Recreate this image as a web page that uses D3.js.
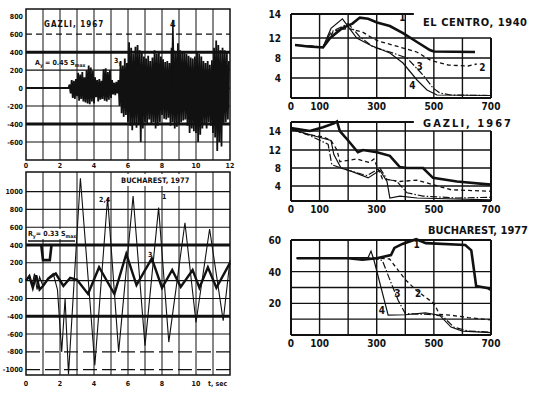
<!DOCTYPE html>
<html>
<head>
<meta charset="utf-8">
<script src="https://cdn.jsdelivr.net/npm/d3@7"></script>
<style>
  body { margin: 0; background: #fff; }
  text { font-family: "DejaVu Sans Condensed", "DejaVu Sans", sans-serif; font-weight: bold; fill: #111; }
</style>
</head>
<body>
<div id="container"></div>
<script>
// ---- left panels: accelerograms / responses vs time ----
var timeTicksTop = [0, 2, 4, 6, 8, 10, 12];
var timeTicksBottom = [0, 2, 4, 6, 8, 10];
var gazliYTicks = [800, 600, 400, 200, 0, -200, -400, -600];
var bucYTicks = [1000, 800, 600, 400, 200, 0, -200, -400, -600, -800, -1000];

// Gazli 1967, response peaks, one value per 1/16 s from t = 2.5 s
var gazliStart = 2.5, gazliStep = 0.0625;
var gazliAcc = [
  0, 40, -60, 90, -110, 80, -120, 100,
  -90, 170, -140, 150, -120, 180, -150, 120,
  -160, 200, -170, 250, -180, 230, -150, 190,
  -170, 120, -100, 90, -150, 100, -130, 80,
  -120, 210, -140, 220, -150, 180, -130, 200,
  -110, 90, -70, 60, -80, 70, -60, 90,
  -200, 300, -280, 250, -320, 330, -300, 280,
  -380, 510, -420, 450, -470, 380, -400, 460,
  -440, 480, -390, 420, -600, 400, -450, 350,
  -380, 330, -400, 360, -350, 300, -410, 340,
  -380, 420, -450, 380, -420, 410, -380, 350,
  -300, 320, -340, 290, -350, 300, -330, 280,
  -420, 450, -380, 420, -450, 400, -430, 500,
  -400, 420, -380, 390, -360, 410, -350, 380,
  -420, 360, -500, 340, -450, 330, -480, 350,
  -500, 400, -600, 380, -520, 350, -450, 300,
  -400, 280, -450, 300, -380, 260, -420, 310,
  -500, 450, -550, 530, -700, 480, -600, 420,
  -650, 450, -400, 420, -380, 400, -350, 300
];
var gazliSpike4 = [[8.56, 0], [8.64, 760], [8.72, 0]];

// Bucharest 1977
var buc24 = [[0,0],[0.2,60],[0.35,-60],[0.5,80],[0.65,-100],[0.8,40],[1.0,-60],[1.3,30],[1.6,80],
  [1.85,-100],[2.1,-800],[2.3,-200],[2.5,-1050],[3.2,1150],[4.05,-950],[4.8,930],[5.45,-800],
  [6.3,950],[7.0,-730],[7.8,820],[8.4,-690],[9.35,650],[10.0,-470],[10.8,580],[11.6,-450],[12,230]];
var buc3 = [[0,0],[0.2,50],[0.4,-80],[0.6,60],[0.8,-100],[1.0,-60],[1.3,20],[1.75,80],[2.2,-60],
  [2.6,30],[3.0,10],[3.65,-150],[4.3,150],[5.2,-150],[5.9,300],[6.5,-50],[7.4,250],[8.0,-80],
  [8.6,120],[9.1,-70],[9.8,120],[10.2,-80],[10.7,150],[11.2,-80],[12,200]];
var buc1 = [[0.9,400],[1.0,230],[1.4,230],[1.5,400]];

// ---- right panels: curves 1-4 vs x ----
var rightXTicks = [0, 100, 300, 500, 700];

var elCentro1 = [[14,10.6],[60,10.3],[112,10.1],[137,12],[178,12.8],[215,13.2],[241,13.7],[270,13.6],
  [301,13.3],[346,13.0],[392,12.4],[441,11.2],[486,9.6],[500,9.3],[644,9.2]];
var elCentro2 = [[14,10.6],[112,10.2],[150,12.6],[200,12.8],[250,12.5],[300,11.5],[380,10.2],[440,9.2],
  [490,7.5],[550,6.6],[620,6.4],[650,6.8]];
var elCentro3 = [[14,10.6],[112,10.2],[140,12.5],[200,13.2],[241,12.1],[287,10.2],[346,9.2],[406,8],
  [462,4.6],[497,2],[521,1],[560,0.6],[700,0.5]];
var elCentro4 = [[14,10.6],[112,10.2],[140,12.8],[180,13.6],[230,12],[280,10.5],[346,9],[392,7],
  [441,3.6],[476,1.6],[511,0.6],[700,0.5]];

var gazli1 = [[0,14.3],[66,14],[112,14.4],[150,14.8],[161,15],[171,14],[200,13],[234,11.5],[252,12],
  [301,11.5],[346,10.7],[381,8.2],[406,8],[462,8],[497,5.8],[581,5],[700,4.3]];
var gazli2 = [[0,14.2],[60,13.6],[112,13.4],[140,13],[161,12],[171,9.4],[230,10],[275,9.2],[290,10],
  [320,5.6],[381,5],[441,5.3],[497,4.3],[560,3],[700,2.6]];
var gazli3 = [[0,14.2],[60,13.6],[130,12.6],[143,8.7],[200,7.5],[266,6.3],[311,8],[336,5.5],[371,5],
  [406,2.2],[462,1.3],[581,0.8],[700,1]];
var gazli4 = [[0,14.2],[80,13.5],[140,13],[150,11],[175,8],[210,7.3],[270,5.8],[311,7.5],[336,5],
  [346,0.8],[381,1.3],[441,0.8],[700,0.3]];

var bucR1 = [[20,48.5],[200,48.5],[250,47.5],[300,48.5],[350,50.5],[362,55],[390,57.5],[438,60.5],
  [472,58],[610,56.8],[631,53.5],[648,31],[690,29.5],[700,28.5]];
var bucR2 = [[20,48.5],[300,48.5],[345,48],[400,35],[440,28],[500,20],[520,13],[560,12.5],[620,11],[700,9.5]];
var bucR3 = [[20,48.5],[290,48.5],[320,47],[350,33],[375,22],[400,13.5],[480,13],[530,12],[570,5],
  [620,2.5],[700,1.8]];
var bucR4 = [[20,48.5],[270,49],[280,53],[290,47.5],[340,12.5],[400,12.8],[470,14],[520,12.5],
  [560,5],[600,2.5],[700,1.5]];

var width = 537, height = 395;

var svg = d3.select("#container").append("svg")
    .attr("width", width)
    .attr("height", height);

var tx = d3.scaleLinear().domain([0, 12]).range([26, 230]);
var gy = d3.scaleLinear().domain([-800, 880]).range([160, 9]);
var by = d3.scaleLinear().domain([-1060, 1220]).range([375, 172]);

function hline(g, x1, x2, y, w, dash) {
  g.append("line").attr("x1", x1).attr("x2", x2).attr("y1", y).attr("y2", y)
    .attr("stroke", "#111").attr("stroke-width", w).attr("stroke-dasharray", dash || null);
}
function vline(g, x, y1, y2, w, dash) {
  g.append("line").attr("x1", x).attr("x2", x).attr("y1", y1).attr("y2", y2)
    .attr("stroke", "#111").attr("stroke-width", w).attr("stroke-dasharray", dash || null);
}

// ---------- Gazli (left top) ----------
var g1 = svg.append("g");
d3.range(1, 12).forEach(function(t) { vline(g1, tx(t), gy(880), gy(-800), 1); });
gazliYTicks.forEach(function(v) {
  if (v === 800) return;
  var w = Math.abs(v) === 400 ? 3 : 1.1;
  hline(g1, tx(0), tx(12), gy(v), w, v === 600 ? "6,4" : null);
});
g1.append("rect").attr("x", tx(0)).attr("y", gy(880)).attr("width", tx(12) - tx(0))
  .attr("height", gy(-800) - gy(880)).attr("fill", "none").attr("stroke", "#111").attr("stroke-width", 1.5);

var gazliPts = [[0, 0]].concat(gazliAcc.map(function(v, i) { return [gazliStart + i * gazliStep, v]; }));
var lineG = d3.line().x(function(d) { return tx(d[0]); }).y(function(d) { return gy(d[1]); });
g1.append("path").attr("d", lineG(gazliPts)).attr("fill", "none").attr("stroke", "#111").attr("stroke-width", 1.8);
g1.append("path").attr("d", lineG([[0, 0], [2.5, 0]])).attr("fill", "none").attr("stroke", "#111").attr("stroke-width", 2);
g1.append("path").attr("d", lineG(gazliSpike4)).attr("fill", "none").attr("stroke", "#111").attr("stroke-width", 1.3);

gazliYTicks.forEach(function(v) {
  g1.append("text").attr("x", 23).attr("y", gy(v) + 2.5).attr("text-anchor", "end")
    .attr("font-size", 7).text(v);
});
timeTicksTop.forEach(function(t) {
  g1.append("text").attr("x", tx(t)).attr("y", 168).attr("text-anchor", "middle")
    .attr("font-size", 7).text(t);
});
g1.append("text").attr("x", 44).attr("y", 27).attr("font-size", 8).attr("letter-spacing", 1).text("GAZLI, 1967");
var lab1 = g1.append("text").attr("x", 35).attr("y", 65).attr("font-size", 7);
lab1.append("tspan").text("A");
lab1.append("tspan").attr("font-size", 5).attr("dy", 2).text("y");
lab1.append("tspan").attr("dy", -2).text(" = 0.45 S");
lab1.append("tspan").attr("font-size", 5).attr("dy", 2).text("max");
var lab3 = g1.append("text").attr("x", 114).attr("y", 63).attr("font-size", 7);
lab3.append("tspan").text("3");
lab3.append("tspan").attr("font-size", 5).attr("dy", 2).text("y");
g1.append("text").attr("x", 170).attr("y", 27).attr("font-size", 9).text("4");

// ---------- Bucharest (left bottom) ----------
var g2 = svg.append("g");
d3.range(1, 12).forEach(function(t) { vline(g2, tx(t), by(1220), by(-1060), 1); });
bucYTicks.forEach(function(v) {
  var w = Math.abs(v) === 400 ? 3 : 1.1;
  hline(g2, tx(0), tx(12), by(v), w, (v === -800 || v === -1000) ? "14,5" : null);
});
g2.append("rect").attr("x", tx(0)).attr("y", by(1220)).attr("width", tx(12) - tx(0))
  .attr("height", by(-1060) - by(1220)).attr("fill", "none").attr("stroke", "#111").attr("stroke-width", 1.5);

var lineB = d3.line().x(function(d) { return tx(d[0]); }).y(function(d) { return by(d[1]); });
g2.append("path").attr("d", lineB(buc24)).attr("fill", "none").attr("stroke", "#111").attr("stroke-width", 1.1);
g2.append("path").attr("d", lineB(buc3)).attr("fill", "none").attr("stroke", "#111").attr("stroke-width", 2.4);
g2.append("path").attr("d", lineB(buc1)).attr("fill", "none").attr("stroke", "#111").attr("stroke-width", 2.6);

bucYTicks.forEach(function(v) {
  g2.append("text").attr("x", 23).attr("y", by(v) + 2.5).attr("text-anchor", "end")
    .attr("font-size", 7).text(v);
});
timeTicksBottom.forEach(function(t) {
  g2.append("text").attr("x", tx(t)).attr("y", 386).attr("text-anchor", "middle")
    .attr("font-size", 7).text(t);
});
g2.append("text").attr("x", 208).attr("y", 386).attr("font-size", 7).text("t, sec");
g2.append("rect").attr("x", 118).attr("y", 174).attr("width", 76).attr("height", 12).attr("fill", "#fff");
g2.append("text").attr("x", 121).attr("y", 183).attr("font-size", 7.5).text("BUCHAREST, 1977");
g2.append("rect").attr("x", 27).attr("y", 229).attr("width", 48).attr("height", 10).attr("fill", "#fff");
var lab2 = g2.append("text").attr("x", 28).attr("y", 236).attr("font-size", 7);
lab2.append("tspan").text("R");
lab2.append("tspan").attr("font-size", 5).attr("dy", 2).text("y");
lab2.append("tspan").attr("dy", -2).text("= 0.33 S");
lab2.append("tspan").attr("font-size", 5).attr("dy", 2).text("max");
hline(g2, 28, 75, 241, 1.5);
g2.append("text").attr("x", 99).attr("y", 202).attr("font-size", 7).text("2,4");
g2.append("text").attr("x", 162).attr("y", 199).attr("font-size", 7).text("1");
g2.append("text").attr("x", 148).attr("y", 257).attr("font-size", 7).text("3");

// ---------- right panels ----------
var rx = d3.scaleLinear().domain([0, 700]).range([291, 491]);

function drawRight(cfg) {
  var g = svg.append("g");
  var y = cfg.y;
  var yb = y(0);
  // horizontal grid
  cfg.grid.forEach(function(v) { hline(g, rx(0), rx(700), y(v), 1.4); });
  // verticals
  d3.range(100, 700, 100).forEach(function(v) {
    var top = v <= cfg.topEnd ? cfg.yTop : y(cfg.rightTop);
    vline(g, rx(v), top, yb, 1.4);
  });
  vline(g, rx(0), cfg.yTop, yb, 2);
  vline(g, rx(700), cfg.topEnd >= 700 ? cfg.yTop : y(cfg.rightTop), yb, 2);
  hline(g, rx(0), rx(Math.min(cfg.topEnd + 30, 700)), cfg.yTop, 2);
  hline(g, rx(0), rx(700), yb, 2.2);

  var line = d3.line().x(function(d) { return rx(d[0]); }).y(function(d) { return y(d[1]); });
  var styles = [
    { w: 2.6, dash: null },
    { w: 1.3, dash: "4,3" },
    { w: 1.2, dash: "7,2,1.5,2" },
    { w: 1.2, dash: null }
  ];
  cfg.curves.forEach(function(c, i) {
    g.append("path").attr("d", line(c)).attr("fill", "none").attr("stroke", "#111")
      .attr("stroke-width", styles[i].w).attr("stroke-dasharray", styles[i].dash);
  });

  cfg.yLabels.forEach(function(v) {
    g.append("text").attr("x", 281).attr("y", y(v) + 4).attr("text-anchor", "end")
      .attr("font-size", 10).text(v);
  });
  rightXTicks.forEach(function(v) {
    g.append("text").attr("x", rx(v)).attr("y", yb + 12).attr("text-anchor", "middle")
      .attr("font-size", 10).text(v);
  });
  g.append("text").attr("x", cfg.title[1]).attr("y", cfg.title[2]).attr("font-size", 11)
    .attr("textLength", cfg.title[3]).text(cfg.title[0]);
  cfg.nums.forEach(function(n) {
    g.append("text").attr("x", rx(n[1])).attr("y", y(n[2])).attr("font-size", 10)
      .attr("text-anchor", "middle").text(n[0]);
  });
}

drawRight({
  y: d3.scaleLinear().domain([0, 12, 14]).range([98, 38, 14]),
  grid: [4, 8, 12], yTop: 14, topEnd: 400, rightTop: 12,
  yLabels: [14, 12, 8, 4],
  curves: [elCentro1, elCentro2, elCentro3, elCentro4],
  title: ["EL CENTRO, 1940", 423, 26, 104],
  nums: [["1", 390, 13.4], ["2", 670, 5.4], ["3", 450, 5.6], ["4", 425, 1.8]]
});

drawRight({
  y: d3.scaleLinear().domain([0, 4, 8, 12, 14]).range([201, 186, 168, 150, 131]),
  grid: [4, 8, 12, 14], yTop: 122, topEnd: 400, rightTop: 14,
  yLabels: [14, 12, 8, 4],
  curves: [gazli1, gazli2, gazli3, gazli4],
  title: ["GAZLI, 1967", 423, 127, 88],
  nums: []
});

drawRight({
  y: d3.scaleLinear().domain([0, 60]).range([335, 240]),
  grid: [10, 20, 30, 40], yTop: 240, topEnd: 700, rightTop: 60,
  yLabels: [60, 40, 20],
  curves: [bucR1, bucR2, bucR3, bucR4],
  title: ["BUCHAREST, 1977", 428, 234, 100],
  nums: [["1", 440, 55], ["2", 445, 24], ["3", 372, 24], ["4", 318, 13.5]]
});
</script>
</body>
</html>
